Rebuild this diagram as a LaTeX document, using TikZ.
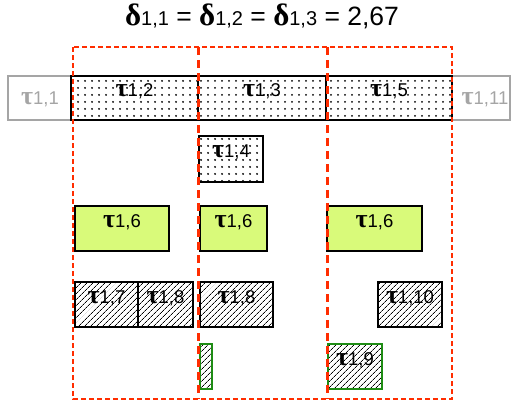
\documentclass[tikz,border=0pt]{standalone}
\usepackage{fontspec}
\setmainfont{Liberation Sans}
\newfontfamily\grk{Liberation Serif}
\usetikzlibrary{patterns.meta,fit}
\definecolor{limefill}{RGB}{217,250,122}
\definecolor{grayline}{RGB}{165,165,165}
\definecolor{redd}{RGB}{255,45,0}
\definecolor{greenb}{RGB}{30,140,20}
\newcommand\tlab[1]{{\grk\bfseries\fontsize{26}{26}\selectfont τ}{\fontsize{18.5}{18.5}\selectfont #1}}
\newcommand\dlab[1]{{\grk\bfseries\fontsize{31}{31}\selectfont δ}{\fontsize{20}{20}\selectfont #1}}
\tikzset{
  box/.style={inner sep=0pt, outer sep=0pt, draw=black, line width=2.4pt},
  dotbox/.style={box, pattern={Dots[distance=6.5pt,radius=1.1pt]}},
  hatchbox/.style={box, pattern={Lines[angle=45,distance=4pt,line width=0.8pt]}},
  limebox/.style={box, fill=limefill},
  greenbox/.style={hatchbox, draw=greenb, line width=2pt},
  graybox/.style={inner sep=0pt, outer sep=0pt, draw=grayline, line width=1.6pt},
  outerred/.style={draw=redd, line width=2pt, dash pattern=on 5pt off 3pt},
  innerred/.style={draw=redd, line width=3pt, dash pattern=on 8pt off 5pt},
}
\begin{document}
\begin{tikzpicture}[x=1pt,y=-1pt]
\useasboundingbox (0,0) rectangle (511,408);
\node[anchor=base, inner sep=0pt] (title) at (262,25)
  {\dlab{1,1}\fontsize{26.5}{27}\selectfont{} = \dlab{1,2} = \dlab{1,3} = 2,67};
% top row
\node[graybox, fit={(8,76) (510,120)}] (row) {};
\node[text=grayline] (t11) at (40,99) {\tlab{1,1}};
\node[text=grayline] (t111) at (485,99) {\tlab{1,11}};
\node[dotbox, fit={(71,76) (198,120)}] (t12) {\tlab{1,2}};
\node[dotbox, fit={(198,76) (326,120)}] (t13) {\tlab{1,3}};
\node[dotbox, fit={(326,76) (452,120)}] (t15) {\tlab{1,5}};
% second row
\node[dotbox, fit={(199,136) (263,182)}] (t14) {\tlab{1,4}};
% third row
\node[limebox, fit={(75,206) (169,251)}] (t16a) {\tlab{1,6}};
\node[limebox, fit={(200,206) (267,251)}] (t16b) {\tlab{1,6}};
\node[limebox, fit={(327,206) (422,251)}] (t16c) {\tlab{1,6}};
% fourth row
\node[hatchbox, fit={(75,282) (138,327)}] (t17) {\tlab{1,7}};
\node[hatchbox, fit={(138,282) (193,327)}] (t18a) {\tlab{1,8}};
\node[hatchbox, fit={(200,282) (273,327)}] (t18b) {\tlab{1,8}};
\node[hatchbox, fit={(378,282) (442,327)}] (t110) {\tlab{1,10}};
% fifth row
\node[greenbox, fit={(200,344) (212,389)}] (g) {};
\node[greenbox, fit={(328,344) (382,389)}] (t19) {\tlab{1,9}};
% red dashed frames
\coordinate (r1) at (73,47);
\coordinate (r2) at (452,399);
\coordinate (a1) at (198,47);
\coordinate (a2) at (198,399);
\coordinate (b1) at (327,47);
\coordinate (b2) at (327,399);
\draw[outerred] (r1) rectangle (r2);
\draw[innerred] (a1) -- (a2);
\draw[innerred] (b1) -- (b2);
\end{tikzpicture}
\end{document}
